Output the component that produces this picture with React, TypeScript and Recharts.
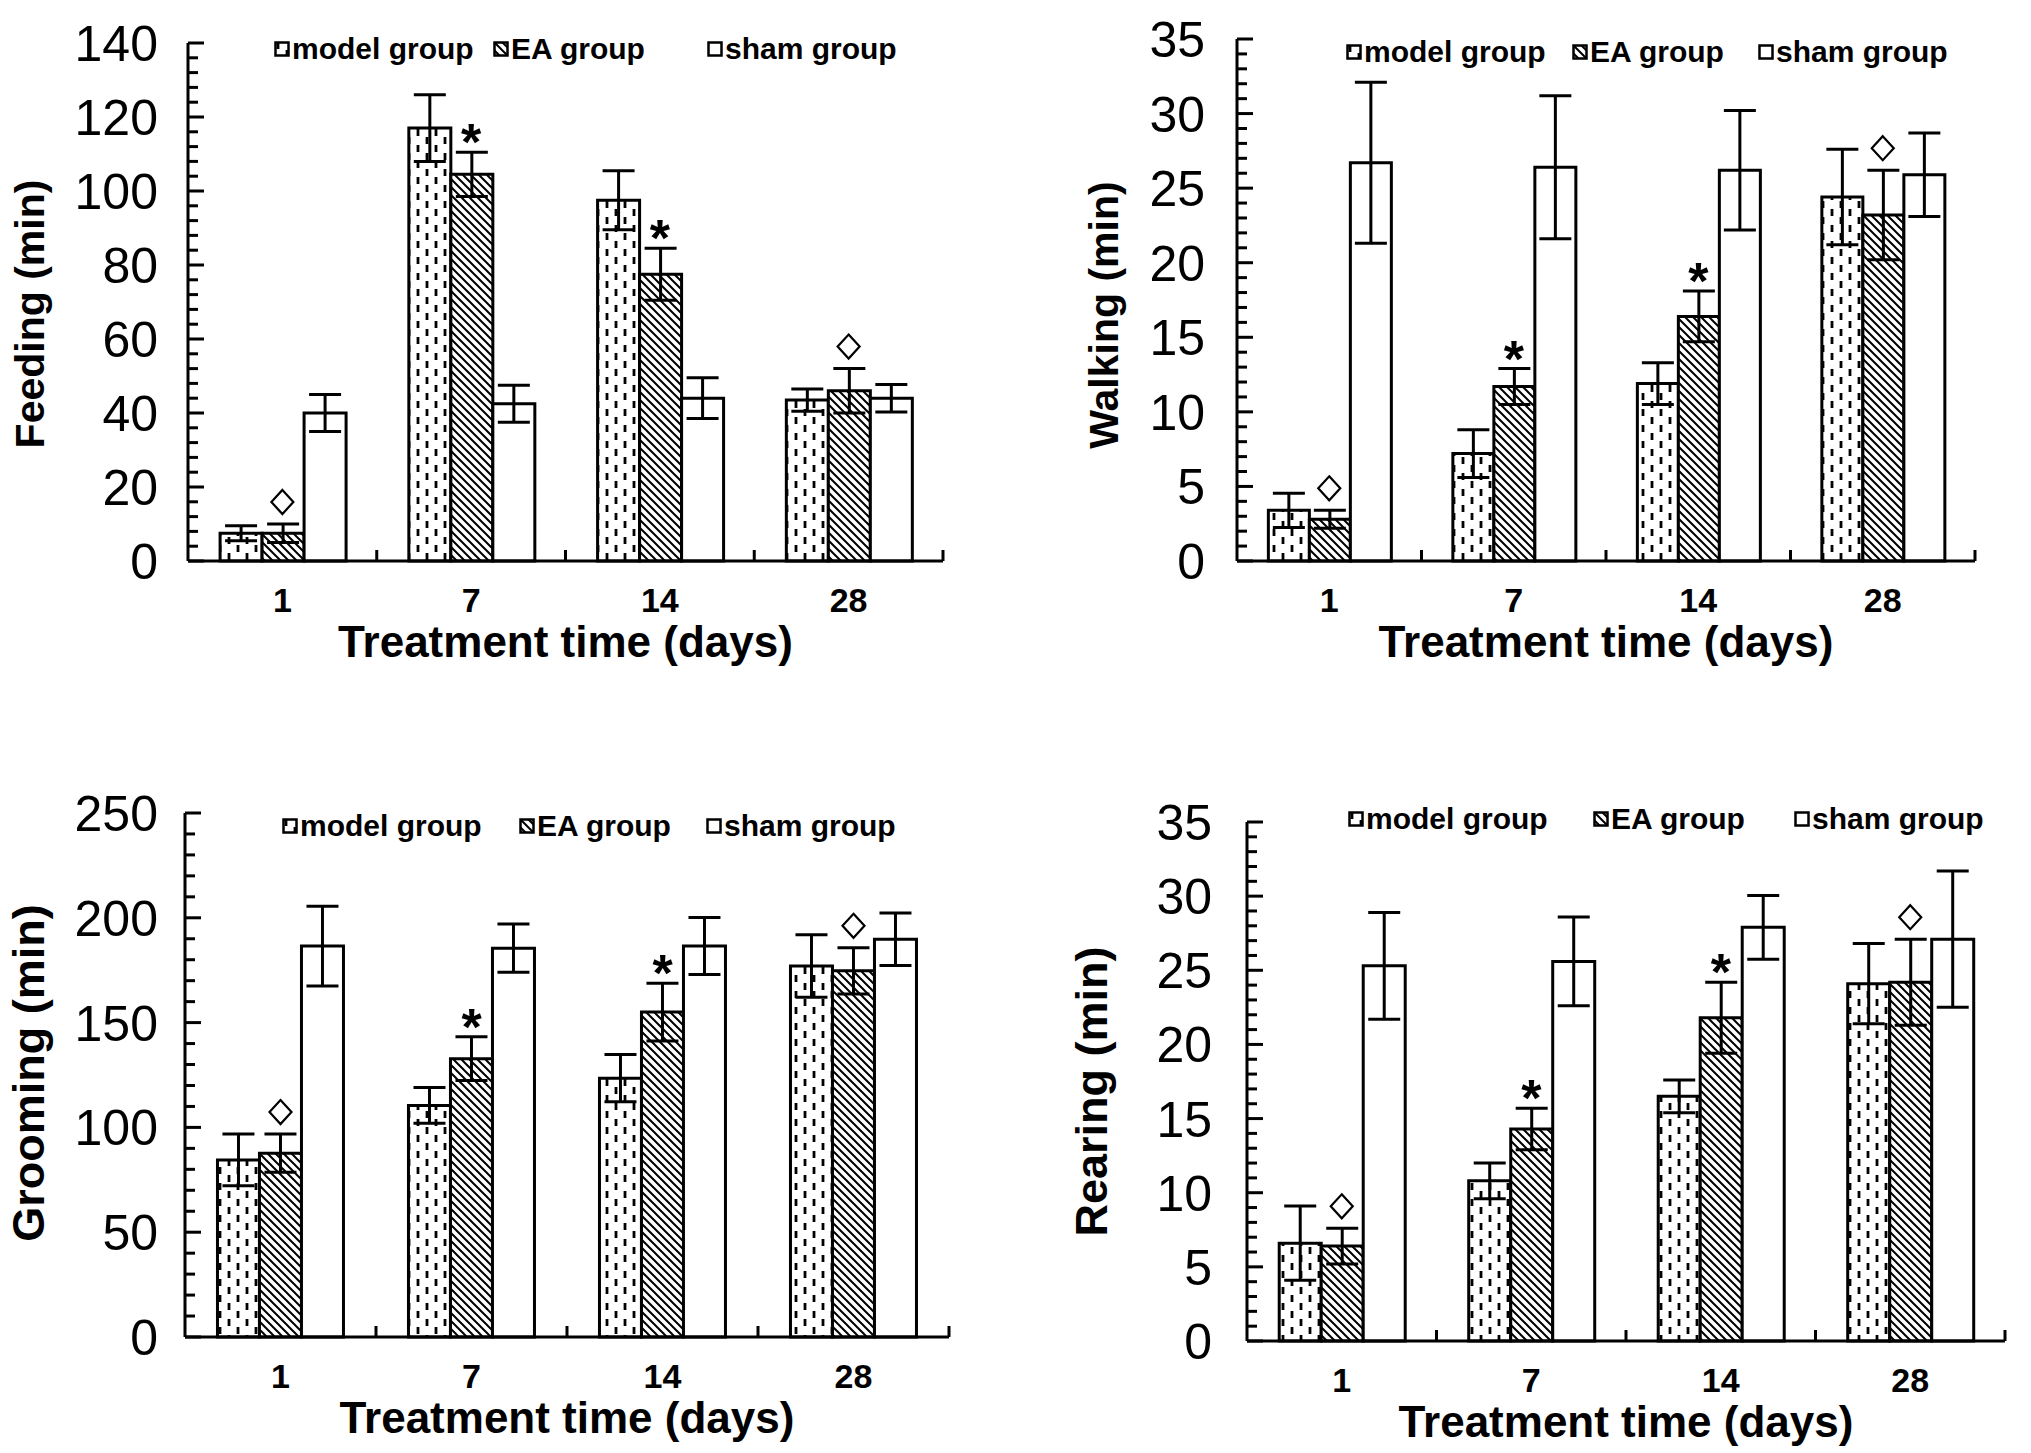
import { ComposedChart, Bar, Line, XAxis, YAxis, ErrorBar } from "recharts"

const days = ["1", "7", "14", "28"]
const marks = ["◇", "*", "*", "◇"]
const groupNames = ["model group", "EA group", "sham group"]

const feedingModel = [7.5, 117, 97.5, 43.5]
const feedingModelErr = [2, 9, 8, 3]
const feedingEA = [7.5, 104.5, 77.5, 46]
const feedingEAErr = [2.5, 6, 7, 6]
const feedingSham = [40, 42.5, 44, 44]
const feedingShamErr = [5, 5, 5.5, 3.7]

const walkingModel = [3.4, 7.2, 11.9, 24.4]
const walkingModelErr = [1.15, 1.6, 1.4, 3.2]
const walkingEA = [2.8, 11.7, 16.4, 23.2]
const walkingEAErr = [0.6, 1.2, 1.7, 3.0]
const walkingSham = [26.7, 26.4, 26.2, 25.9]
const walkingShamErr = [5.4, 4.8, 4.0, 2.8]

const groomingModel = [84.5, 110.5, 123.5, 177]
const groomingModelErr = [12.3, 8.5, 11.3, 14.9]
const groomingEA = [87.7, 132.8, 155, 174.7]
const groomingEAErr = [9.1, 10.4, 13.8, 11]
const groomingSham = [186.5, 185.5, 186.5, 189.8]
const groomingShamErr = [19, 11.5, 13.6, 12.5]

const rearingModel = [6.6, 10.8, 16.5, 24.1]
const rearingModelErr = [2.5, 1.2, 1.1, 2.7]
const rearingEA = [6.4, 14.3, 21.8, 24.2]
const rearingEAErr = [1.2, 1.4, 2.4, 2.9]
const rearingSham = [25.3, 25.6, 27.9, 27.1]
const rearingShamErr = [3.6, 3.0, 2.15, 4.6]

const feedingTicks = [0, 20, 40, 60, 80, 100, 120, 140]
const walkingTicks = [0, 5, 10, 15, 20, 25, 30, 35]
const groomingTicks = [0, 50, 100, 150, 200, 250]
const rearingTicks = [0, 5, 10, 15, 20, 25, 30, 35]

const FONT = "'Liberation Sans', Arial, sans-serif"

const panels = [
  {
    id: "feeding", label: "Feeding (min)", ticks: feedingTicks,
    model: feedingModel, modelErr: feedingModelErr, ea: feedingEA, eaErr: feedingEAErr,
    sham: feedingSham, shamErr: feedingShamErr,
    left: 0, top: 0, width: 1000, height: 700,
    margin: { top: 43, right: 57, bottom: 39, left: 30 }, yWidth: 158, tickGap: 30,
    labelSize: 41, labelShift: 12,
    legendX: 274, legendY: 49, legendOffsets: [0, 219, 433],
  },
  {
    id: "walking", label: "Walking (min)", ticks: walkingTicks,
    model: walkingModel, modelErr: walkingModelErr, ea: walkingEA, eaErr: walkingEAErr,
    sham: walkingSham, shamErr: walkingShamErr,
    left: 1000, top: 0, width: 1031, height: 700,
    margin: { top: 39, right: 56, bottom: 39, left: 104 }, yWidth: 133, tickGap: 32,
    labelSize: 41, labelShift: 15,
    legendX: 346, legendY: 52, legendOffsets: [0, 226, 412],
  },
  {
    id: "grooming", label: "Grooming (min)", ticks: groomingTicks,
    model: groomingModel, modelErr: groomingModelErr, ea: groomingEA, eaErr: groomingEAErr,
    sham: groomingSham, shamErr: groomingShamErr,
    left: 0, top: 750, width: 1000, height: 703,
    margin: { top: 63, right: 51, bottom: 16, left: 28 }, yWidth: 157, tickGap: 27,
    labelSize: 45, labelShift: -2,
    legendX: 282, legendY: 76, legendOffsets: [0, 237, 424],
  },
  {
    id: "rearing", label: "Rearing (min)", ticks: rearingTicks,
    model: rearingModel, modelErr: rearingModelErr, ea: rearingEA, eaErr: rearingEAErr,
    sham: rearingSham, shamErr: rearingShamErr,
    left: 1000, top: 750, width: 1031, height: 703,
    margin: { top: 72, right: 26, bottom: 12, left: 91 }, yWidth: 156, tickGap: 35,
    labelSize: 45, labelShift: 10,
    legendX: 348, legendY: 69, legendOffsets: [0, 245, 446],
  },
]

const fills = ["url(#pat-dash)", "url(#pat-hatch)", "#fff"]

const PatternDefs = () => (
  <svg width={0} height={0} style={{ position: "absolute" }}>
    <defs>
      <pattern id="pat-dash" patternUnits="userSpaceOnUse" width={18} height={16}>
        <rect width={18} height={16} fill="#fff" />
        <line x1={4} x2={4} y1={1} y2={8} stroke="#000" strokeWidth={2.8} />
        <line x1={13} x2={13} y1={9} y2={16} stroke="#000" strokeWidth={2.8} />
      </pattern>
      <pattern id="pat-hatch" patternUnits="userSpaceOnUse" width={8} height={8}>
        <rect width={8} height={8} fill="#fff" />
        <path d="M-2,-2 L10,10 M-2,6 L2,10 M6,-2 L10,2" stroke="#000" strokeWidth={2} />
      </pattern>
    </defs>
  </svg>
)

const YTick = (props: any) => {
  const { x, y, payload, majors, gap } = props
  const major = majors.includes(payload.value)
  const ax = x + gap
  return (
    <g>
      <line x1={ax} x2={ax + (major ? 16 : 10)} y1={y} y2={y} stroke="#000" strokeWidth={3} />
      {major && (
        <text x={x} y={y} dy="0.36em" textAnchor="end" fontSize={50} fill="#000" fontFamily={FONT}>
          {payload.value}
        </text>
      )}
    </g>
  )
}

const XTick = (props: any) => {
  const { x, y, payload, band } = props
  return (
    <g>
      <line x1={x + band / 2} x2={x + band / 2} y1={y} y2={y - 11} stroke="#000" strokeWidth={3} />
      <text x={x} y={y + 51} textAnchor="middle" fontSize={34} fontWeight="bold" fill="#000" fontFamily={FONT}>
        {payload.value}
      </text>
    </g>
  )
}

const Mark = (props: any) => {
  const { cx, cy, payload, index } = props
  if (payload.sym === "*") {
    return (
      <text key={index} x={cx} y={cy + 8} textAnchor="middle" fontSize={52} fontWeight="bold" fill="#000" fontFamily={FONT}>
        *
      </text>
    )
  }
  const c = cy - 22
  return (
    <polygon
      key={index}
      points={`${cx},${c - 12} ${cx + 11},${c} ${cx},${c + 12} ${cx - 11},${c}`}
      fill="#fff"
      stroke="#000"
      strokeWidth={2.2}
    />
  )
}

const LegendIcon = ({ fill }: { fill: string }) => (
  <svg width={16} height={16} style={{ display: "block" }}>
    <rect x={1.5} y={1.5} width={13} height={13} fill={fill} stroke="#000" strokeWidth={2.5} />
  </svg>
)

const Panel = ({ p }: { p: (typeof panels)[number] }) => {
  const rows = days.map((day, i) => ({
    day,
    model: p.model[i],
    modelErr: p.modelErr[i],
    ea: p.ea[i],
    eaErr: p.eaErr[i],
    sham: p.sham[i],
    shamErr: p.shamErr[i],
    mark: p.ea[i] + p.eaErr[i],
    sym: marks[i],
  }))
  const max = p.ticks[p.ticks.length - 1]
  const minorStep = (p.ticks[1] - p.ticks[0]) / 5
  const allTicks: number[] = []
  for (let v = 0; v <= max + 1e-9; v += minorStep) allTicks.push(Math.round(v * 1000) / 1000)
  const plotWidth = p.width - p.margin.left - p.margin.right - p.yWidth
  const band = plotWidth / days.length

  const renderYLabel = (lp: any) => {
    const vb = lp.viewBox
    const cx = vb.x
    const cy = vb.y + vb.height / 2 + p.labelShift
    return (
      <text
        x={cx}
        y={cy}
        dy="0.35em"
        transform={`rotate(-90 ${cx} ${cy})`}
        textAnchor="middle"
        fontSize={p.labelSize}
        fontWeight="bold"
        fill="#000"
        fontFamily={FONT}
      >
        {p.label}
      </text>
    )
  }

  return (
    <div style={{ position: "absolute", left: p.left, top: p.top, width: p.width, height: p.height }}>
      <ComposedChart
        width={p.width}
        height={p.height}
        data={rows}
        margin={p.margin}
        barCategoryGap="17%"
        barGap={0}
      >
        <XAxis
          dataKey="day"
          interval={0}
          tickLine={false}
          tickSize={0}
          tickMargin={0}
          height={100}
          axisLine={{ stroke: "#000", strokeWidth: 3 }}
          tick={(t: any) => <XTick {...t} band={band} />}
          label={{
            value: "Treatment time (days)",
            position: "insideBottom",
            offset: 4,
            style: { fontSize: 44, fontWeight: "bold", fill: "#000", fontFamily: FONT },
          }}
        />
        <YAxis
          type="number"
          domain={[0, max]}
          ticks={allTicks}
          interval={0}
          width={p.yWidth}
          tickLine={false}
          tickSize={0}
          tickMargin={p.tickGap}
          axisLine={{ stroke: "#000", strokeWidth: 3 }}
          tick={(t: any) => <YTick {...t} majors={p.ticks} gap={p.tickGap} />}
          label={{ value: p.label, position: "insideLeft", content: renderYLabel }}
        />
        <Bar dataKey="model" fill={fills[0]} stroke="#000" strokeWidth={3} isAnimationActive={false}>
          <ErrorBar dataKey="modelErr" width={16} strokeWidth={3} stroke="#000" />
        </Bar>
        <Bar dataKey="ea" fill={fills[1]} stroke="#000" strokeWidth={3} isAnimationActive={false}>
          <ErrorBar dataKey="eaErr" width={16} strokeWidth={3} stroke="#000" />
        </Bar>
        <Bar dataKey="sham" fill={fills[2]} stroke="#000" strokeWidth={3} isAnimationActive={false}>
          <ErrorBar dataKey="shamErr" width={16} strokeWidth={3} stroke="#000" />
        </Bar>
        <Line
          dataKey="mark"
          stroke="none"
          dot={Mark}
          activeDot={false}
          legendType="none"
          isAnimationActive={false}
        />
      </ComposedChart>
      {groupNames.map((name, i) => (
        <div
          key={name}
          style={{
            position: "absolute",
            left: p.legendX + p.legendOffsets[i],
            top: p.legendY - 18,
            height: 36,
            display: "flex",
            alignItems: "center",
            fontFamily: FONT,
            fontWeight: "bold",
            fontSize: 30,
            whiteSpace: "nowrap",
            color: "#000",
          }}
        >
          <LegendIcon fill={fills[i]} />
          <span style={{ marginLeft: 2 }}>{name}</span>
        </div>
      ))}
    </div>
  )
}

export default function App() {
  return (
    <div style={{ position: "absolute", left: 0, top: 0, width: 2031, height: 1453, background: "#fff", overflow: "hidden" }}>
      <PatternDefs />
      {panels.map((p) => (
        <Panel key={p.id} p={p} />
      ))}
    </div>
  )
}
